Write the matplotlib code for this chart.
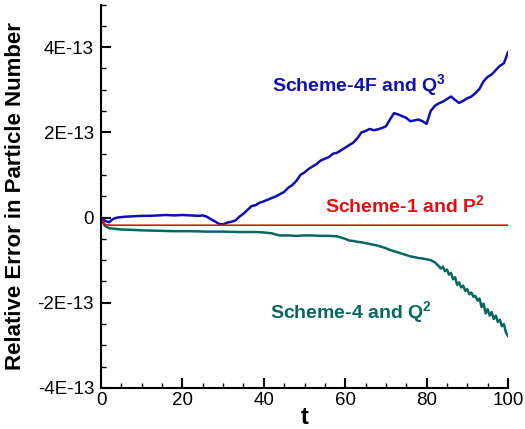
import matplotlib
matplotlib.use("Agg")
import matplotlib.pyplot as plt
from matplotlib.ticker import MultipleLocator, FuncFormatter

plt.rcParams['font.family'] = ['Liberation Sans', 'DejaVu Sans']
plt.rcParams['mathtext.fontset'] = 'custom'
plt.rcParams['mathtext.rm'] = 'Liberation Sans:bold'
plt.rcParams['mathtext.it'] = 'Liberation Sans:bold'
plt.rcParams['mathtext.bf'] = 'Liberation Sans:bold'

# values in units of 1E-13
blue_t = [0, 0.5, 1, 2, 3, 4,
          6, 8, 10, 12, 14, 16, 18, 20, 22, 24,
          25, 26, 27, 28, 29, 30, 31, 32, 33, 34, 35, 36, 37, 38, 39, 40,
          41, 42, 43, 44, 45, 46, 47, 48, 49, 50, 51, 52, 53, 54, 55, 56,
          57, 58, 59, 60, 61, 62, 63, 64, 65, 66, 67, 68, 69, 70, 71, 72,
          73, 74, 75, 76, 77, 78, 79, 80, 81, 82, 83, 84, 85, 86, 87, 88,
          89, 90, 91, 92, 93, 94, 95, 96, 97, 98, 99, 100]
blue_v = [0, -0.03, -0.08, -0.11, -0.03, 0.0,
          0.02, 0.03, 0.04, 0.04, 0.05, 0.06, 0.05, 0.06, 0.05, 0.04,
          0.05, 0.02, -0.04, -0.09, -0.15, -0.16, -0.12, -0.10, -0.07, 0.02, 0.09, 0.18, 0.27, 0.29, 0.35, 0.38,
          0.42, 0.46, 0.50, 0.55, 0.60, 0.70, 0.76, 0.86, 1.00, 1.06, 1.14, 1.20, 1.26, 1.34, 1.38, 1.42,
          1.50, 1.52, 1.58, 1.64, 1.70, 1.76, 1.86, 2.00, 2.03, 2.08, 2.05, 2.07, 2.10, 2.14, 2.30, 2.45,
          2.42, 2.38, 2.34, 2.26, 2.28, 2.30, 2.26, 2.20, 2.50, 2.62, 2.68, 2.72, 2.78, 2.84, 2.76, 2.69,
          2.74, 2.80, 2.84, 2.92, 3.02, 3.20, 3.30, 3.36, 3.46, 3.56, 3.62, 3.88]

red_t = [0, 0.5, 1, 2, 20, 40, 60, 80, 100]
red_v = [0, -0.10, -0.16, -0.18, -0.18, -0.18, -0.18, -0.18, -0.18]

green_t = [0, 0.5, 1, 2, 3, 5, 8, 10, 14, 18, 22, 26, 30, 34, 38, 40,
           42, 43, 44, 46, 48, 50, 52, 54, 56, 58, 59, 60, 61, 62, 63, 64,
           65, 66, 67, 68, 69, 70, 71, 72, 73, 74, 75, 76, 77, 78, 79, 80,
           81, 82, 83,
           83.5, 84, 84.5, 85, 85.5, 86, 86.5, 87, 87.5, 88, 88.5, 89,
           89.5, 90, 90.5, 91, 91.5, 92, 92.5, 93, 93.5, 94, 94.5, 95,
           95.5, 96, 96.5, 97, 97.5, 98, 98.5, 99, 99.5, 100]
green_v = [0, -0.12, -0.20, -0.25, -0.26, -0.28, -0.29, -0.30, -0.31, -0.32, -0.32, -0.33, -0.33, -0.34, -0.34, -0.35,
           -0.37, -0.40, -0.42, -0.42, -0.43, -0.42, -0.42, -0.43, -0.43, -0.44, -0.47, -0.50, -0.54, -0.55, -0.57, -0.58,
           -0.60, -0.62, -0.64, -0.66, -0.69, -0.72, -0.76, -0.79, -0.82, -0.85, -0.88, -0.91, -0.93, -0.95, -0.96, -0.98,
           -1.00, -1.05, -1.14,
           -1.20, -1.15, -1.26, -1.22, -1.34, -1.30, -1.45, -1.40, -1.58, -1.52, -1.64, -1.60,
           -1.72, -1.68, -1.80, -1.76, -1.86, -1.84, -1.95, -1.90, -2.10, -2.02, -2.25, -2.15,
           -2.30, -2.22, -2.38, -2.30, -2.45, -2.40, -2.55, -2.50, -2.70, -2.78]

blue = '#1010B0'
red = '#E01010'
green = '#0A6660'

fig = plt.figure(figsize=(5.25, 4.29), dpi=100)
ax = fig.add_axes([0.1924, 0.0956, 0.7752, 0.8939])

ax.plot(green_t, green_v, color=green, lw=1.8)
ax.plot(blue_t, blue_v, color=blue, lw=1.8)
ax.plot(red_t, red_v, color=red, lw=1.2)

ax.set_xlim(0, 100)
ax.set_ylim(-4, 5)
ax.xaxis.set_major_locator(MultipleLocator(20))
ax.xaxis.set_minor_locator(MultipleLocator(5))
ax.yaxis.set_major_locator(MultipleLocator(2))
ax.yaxis.set_minor_locator(MultipleLocator(0.5))
ax.yaxis.set_major_formatter(FuncFormatter(lambda v, p: '0' if v == 0 else f'{v:g}E-13'))

for side in ['top', 'right']:
    ax.spines[side].set_visible(False)
for side in ['left', 'bottom']:
    ax.spines[side].set_linewidth(1.5)

ax.tick_params(which='major', direction='in', length=7, width=1.5, labelsize=13.5)
ax.tick_params(which='minor', direction='in', length=3.5, width=1.0)
ax.tick_params(axis='y', pad=5)
ax.tick_params(axis='x', pad=3)

ax.set_xlabel('t', fontsize=17, fontweight='bold')
ax.set_ylabel('Relative Error in Particle Number', fontsize=16, fontweight='bold')
ax.xaxis.set_label_coords(0.5, -0.076)
ax.xaxis.label.set_va('center')
ax.yaxis.set_label_coords(-0.211, 0.5)
ax.yaxis.label.set_va('center')

ax.text(63.5, 2.96, 'Scheme-4F and Q$^{3}$', color=blue, fontsize=14, fontweight='bold',
        ha='center', va='baseline')
ax.text(74.6, 0.12, 'Scheme-1 and P$^{2}$', color=red, fontsize=14, fontweight='bold',
        ha='center', va='baseline')
ax.text(61.3, -2.37, 'Scheme-4 and Q$^{2}$', color=green, fontsize=14, fontweight='bold',
        ha='center', va='baseline')

fig.savefig('out.png', dpi=100)
